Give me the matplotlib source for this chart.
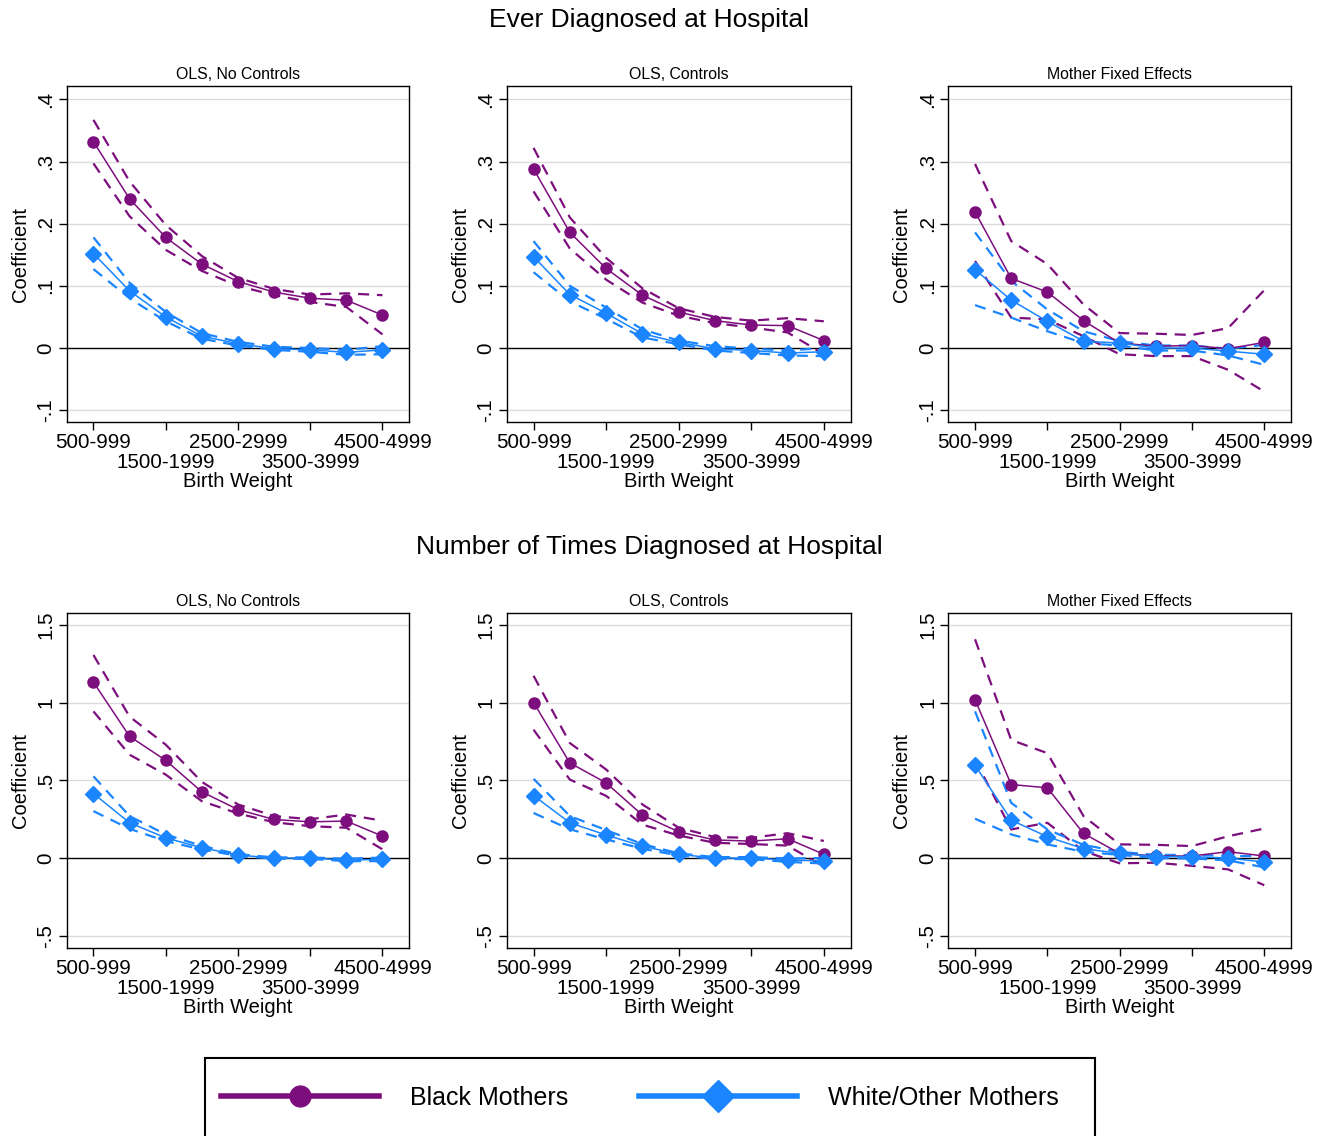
import matplotlib
matplotlib.use("Agg")
import matplotlib.pyplot as plt
from matplotlib.lines import Line2D
from matplotlib.patches import Rectangle
import numpy as np

plt.rcParams['font.family'] = ['Liberation Sans', 'DejaVu Sans']

bins = ['500-999', '1000-1499', '1500-1999', '2000-2499', '2500-2999',
        '3000-3499', '3500-3999', '4000-4499', '4500-4999']
tick_pos_upper = [0, 4, 8]
tick_labels_upper = ['500-999', '2500-2999', '4500-4999']
tick_pos_lower = [2, 6]
tick_labels_lower = ['1500-1999', '3500-3999']

row_titles = ['Ever Diagnosed at Hospital', 'Number of Times Diagnosed at Hospital']
panel_titles = ['OLS, No Controls', 'OLS, Controls', 'Mother Fixed Effects']

# ---- Ever diagnosed ----
ever_ols_nc_black = [0.332, 0.240, 0.178, 0.135, 0.107, 0.090, 0.080, 0.077, 0.053]
ever_ols_nc_black_hi = [0.367, 0.268, 0.198, 0.148, 0.113, 0.095, 0.086, 0.088, 0.085]
ever_ols_nc_black_lo = [0.297, 0.212, 0.158, 0.124, 0.100, 0.085, 0.074, 0.066, 0.022]
ever_ols_nc_white = [0.152, 0.092, 0.050, 0.019, 0.007, -0.001, -0.003, -0.007, -0.003]
ever_ols_nc_white_hi = [0.178, 0.105, 0.058, 0.024, 0.010, 0.002, 0.000, -0.003, 0.003]
ever_ols_nc_white_lo = [0.127, 0.080, 0.043, 0.015, 0.004, -0.003, -0.006, -0.011, -0.010]

ever_ols_c_black = [0.288, 0.186, 0.128, 0.085, 0.058, 0.044, 0.037, 0.036, 0.012]
ever_ols_c_black_hi = [0.322, 0.210, 0.145, 0.096, 0.064, 0.050, 0.044, 0.048, 0.043]
ever_ols_c_black_lo = [0.252, 0.160, 0.110, 0.073, 0.052, 0.040, 0.033, 0.025, -0.010]
ever_ols_c_white = [0.147, 0.086, 0.056, 0.023, 0.009, -0.001, -0.004, -0.008, -0.006]
ever_ols_c_white_hi = [0.172, 0.100, 0.065, 0.030, 0.012, 0.003, -0.001, -0.004, 0.000]
ever_ols_c_white_lo = [0.122, 0.075, 0.047, 0.017, 0.006, -0.004, -0.008, -0.012, -0.013]

ever_fe_black = [0.219, 0.112, 0.090, 0.044, 0.008, 0.003, 0.004, -0.001, 0.009]
ever_fe_black_hi = [0.296, 0.172, 0.135, 0.070, 0.024, 0.023, 0.021, 0.032, 0.093]
ever_fe_black_lo = [0.140, 0.049, 0.046, 0.019, -0.010, -0.013, -0.013, -0.035, -0.070]
ever_fe_white = [0.126, 0.077, 0.043, 0.011, 0.008, 0.000, 0.000, -0.005, -0.010]
ever_fe_white_hi = [0.186, 0.108, 0.062, 0.027, 0.011, 0.004, 0.004, -0.001, 0.005]
ever_fe_white_lo = [0.069, 0.049, 0.027, 0.008, 0.004, -0.004, -0.004, -0.012, -0.027]

# ---- Number of times ----
num_ols_nc_black = [1.132, 0.783, 0.629, 0.426, 0.312, 0.248, 0.233, 0.238, 0.141]
num_ols_nc_black_hi = [1.307, 0.910, 0.730, 0.490, 0.345, 0.270, 0.250, 0.280, 0.240]
num_ols_nc_black_lo = [0.944, 0.665, 0.537, 0.366, 0.287, 0.230, 0.205, 0.195, 0.056]
num_ols_nc_white = [0.415, 0.227, 0.130, 0.066, 0.019, 0.000, 0.000, -0.013, -0.009]
num_ols_nc_white_hi = [0.526, 0.270, 0.152, 0.078, 0.025, 0.004, 0.004, -0.005, 0.003]
num_ols_nc_white_lo = [0.302, 0.188, 0.109, 0.055, 0.014, -0.004, -0.005, -0.020, -0.020]

num_ols_c_black = [1.001, 0.612, 0.484, 0.276, 0.169, 0.116, 0.109, 0.124, 0.024]
num_ols_c_black_hi = [1.173, 0.740, 0.570, 0.345, 0.195, 0.135, 0.130, 0.160, 0.110]
num_ols_c_black_lo = [0.826, 0.505, 0.400, 0.215, 0.145, 0.098, 0.090, 0.080, -0.055]
num_ols_c_white = [0.402, 0.227, 0.148, 0.077, 0.024, 0.000, 0.000, -0.013, -0.019]
num_ols_c_white_hi = [0.510, 0.270, 0.180, 0.090, 0.030, 0.006, 0.006, -0.003, 0.000]
num_ols_c_white_lo = [0.290, 0.185, 0.120, 0.060, 0.016, -0.006, -0.007, -0.025, -0.035]

num_fe_black = [1.019, 0.473, 0.452, 0.158, 0.030, 0.013, 0.013, 0.041, 0.013]
num_fe_black_hi = [1.408, 0.760, 0.675, 0.270, 0.088, 0.085, 0.077, 0.140, 0.190]
num_fe_black_lo = [0.633, 0.184, 0.227, 0.045, -0.034, -0.030, -0.050, -0.073, -0.175]
num_fe_white = [0.597, 0.244, 0.137, 0.060, 0.030, 0.009, 0.009, 0.000, -0.026]
num_fe_white_hi = [0.944, 0.355, 0.184, 0.085, 0.040, 0.020, 0.020, 0.015, 0.010]
num_fe_white_lo = [0.253, 0.152, 0.088, 0.040, 0.020, 0.000, -0.003, -0.015, -0.060]

panels = [
    [(ever_ols_nc_black, ever_ols_nc_black_hi, ever_ols_nc_black_lo,
      ever_ols_nc_white, ever_ols_nc_white_hi, ever_ols_nc_white_lo),
     (ever_ols_c_black, ever_ols_c_black_hi, ever_ols_c_black_lo,
      ever_ols_c_white, ever_ols_c_white_hi, ever_ols_c_white_lo),
     (ever_fe_black, ever_fe_black_hi, ever_fe_black_lo,
      ever_fe_white, ever_fe_white_hi, ever_fe_white_lo)],
    [(num_ols_nc_black, num_ols_nc_black_hi, num_ols_nc_black_lo,
      num_ols_nc_white, num_ols_nc_white_hi, num_ols_nc_white_lo),
     (num_ols_c_black, num_ols_c_black_hi, num_ols_c_black_lo,
      num_ols_c_white, num_ols_c_white_hi, num_ols_c_white_lo),
     (num_fe_black, num_fe_black_hi, num_fe_black_lo,
      num_fe_white, num_fe_white_hi, num_fe_white_lo)],
]

yticks_rows = [[-0.1, 0, 0.1, 0.2, 0.3, 0.4], [-0.5, 0, 0.5, 1, 1.5]]
ytick_labels_rows = [['-.1', '0', '.1', '.2', '.3', '.4'], ['-.5', '0', '.5', '1', '1.5']]
ylims = [(-0.119, 0.4215), (-0.581, 1.579)]

PURPLE = '#7d0e7d'
BLUE = '#1a85ff'

W, H = 1331, 1136
fig = plt.figure(figsize=(W / 100, H / 100), dpi=100)

col_lefts = [66.7, 506.7, 948.3]
col_widths = [342.5, 344.0, 342.7]
row_tops = [86.0, 612.7]
row_bottoms = [422.0, 948.3]

x = np.arange(len(bins))
TICKFS = 14.8

for r in range(2):
    for c in range(3):
        l = col_lefts[c] / W
        w = col_widths[c] / W
        b = 1 - row_bottoms[r] / H
        h = (row_bottoms[r] - row_tops[r]) / H
        ax = fig.add_axes([l, b, w, h])
        bl, bhi, blo, wh, whi, wlo = panels[r][c]
        for yy in yticks_rows[r]:
            if yy != 0:
                ax.axhline(yy, color='#dcdcdc', lw=1.0, zorder=0)
        ax.axhline(0, color='black', lw=1.0, zorder=1)
        dash = (0, (5, 3.5))
        ax.plot(x, bhi, color=PURPLE, lw=1.6, ls=dash, zorder=2)
        ax.plot(x, blo, color=PURPLE, lw=1.6, ls=dash, zorder=2)
        ax.plot(x, whi, color=BLUE, lw=1.6, ls=dash, zorder=3)
        ax.plot(x, wlo, color=BLUE, lw=1.6, ls=dash, zorder=3)
        ax.plot(x, bl, color=PURPLE, lw=1.1, marker='o', ms=8, zorder=4)
        ax.plot(x, wh, color=BLUE, lw=1.1, marker='D', ms=8, zorder=5)
        ax.set_xlim(-0.74, 8.74)
        ax.set_ylim(*ylims[r])
        ax.set_yticks(yticks_rows[r])
        ax.set_yticklabels(ytick_labels_rows[r], rotation=90, va='center')
        ax.set_xticks(tick_pos_upper)
        ax.set_xticklabels(tick_labels_upper)
        ax.set_xticks(tick_pos_lower, minor=True)
        ax.set_xticklabels(tick_labels_lower, minor=True)
        ax.tick_params(axis='both', which='major', labelsize=TICKFS, length=6, width=1,
                       direction='out', color='black', pad=2)
        ax.tick_params(axis='x', which='minor', labelsize=TICKFS, length=6, width=1,
                       direction='out', color='black', pad=16)
        for sp in ax.spines.values():
            sp.set_linewidth(1.0)
            sp.set_color('black')
        ax.set_title(panel_titles[c], fontsize=11.4, pad=5)
        ax.set_ylabel('Coefficient', fontsize=14.5, labelpad=5)
        ax.set_xlabel('Birth Weight', fontsize=14.5, labelpad=0)

fig.text(649 / W, 1 - 20 / H, row_titles[0], fontsize=19, ha='center', va='center')
fig.text(649 / W, 1 - 547 / H, row_titles[1], fontsize=19, ha='center', va='center')

# legend
fig.patches.append(Rectangle((205 / W, -0.02), (1095 - 205) / W, 0.02 + (1136 - 1058) / H,
                             transform=fig.transFigure, fill=False, edgecolor='black',
                             lw=1.5))
handles = [Line2D([], [], color=PURPLE, lw=4, marker='o', ms=15),
           Line2D([], [], color=BLUE, lw=4, marker='D', ms=16)]
fig.legend(handles, ['Black Mothers', 'White/Other Mothers'], loc='center',
           bbox_to_anchor=(640 / W, 1 - 1098 / H), ncol=2, frameon=False,
           fontsize=18, handlelength=6.3, handletextpad=1.25, columnspacing=2.85)

fig.savefig('out.png', dpi=100)
